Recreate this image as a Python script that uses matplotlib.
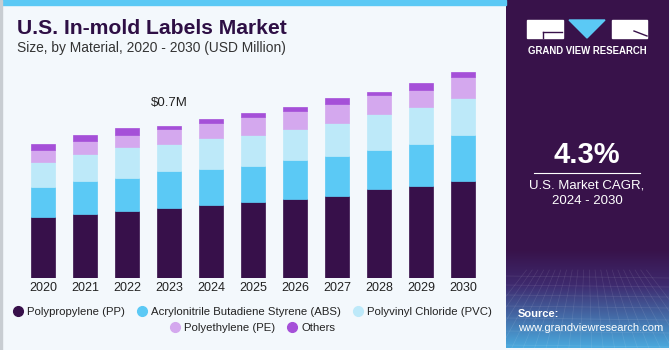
import numpy as np
import matplotlib
matplotlib.use("Agg")
import matplotlib.pyplot as plt
from matplotlib.patches import Rectangle, Polygon
from matplotlib.lines import Line2D

plt.rcParams['font.family'] = ['Liberation Sans', 'DejaVu Sans']

years = ["2020", "2021", "2022", "2023", "2024", "2025", "2026", "2027", "2028", "2029", "2030"]
pp = [0.279, 0.293, 0.307, 0.320, 0.334, 0.348, 0.363, 0.378, 0.407, 0.420, 0.447]
abs_ = [0.139, 0.152, 0.152, 0.169, 0.168, 0.166, 0.180, 0.181, 0.180, 0.194, 0.209]
pvc = [0.113, 0.125, 0.140, 0.125, 0.142, 0.142, 0.142, 0.153, 0.167, 0.169, 0.169]
pe = [0.055, 0.058, 0.058, 0.070, 0.069, 0.082, 0.082, 0.085, 0.085, 0.081, 0.095]
others = [0.027, 0.029, 0.029, 0.015, 0.015, 0.017, 0.016, 0.027, 0.014, 0.030, 0.027]

series = [
    ("Polypropylene (PP)", pp, "#37104a"),
    ("Acrylonitrile Butadiene Styrene (ABS)", abs_, "#5bc9f5"),
    ("Polyvinyl Chloride (PVC)", pvc, "#bde9f9"),
    ("Polyethylene (PE)", pe, "#d4a8ee"),
    ("Others", others, "#a550d8"),
]
label_year = "2023"
label_text = "$0.7M"

W, H = 670, 350
fig = plt.figure(figsize=(6.7, 3.5), dpi=100)
fig.patch.set_facecolor("#f3f8fc")

# top stripe and left border
fig.patches.append(Rectangle((0, 1 - 5 / H), 506 / W, 5 / H, transform=fig.transFigure,
                             color="#5bc9f5", zorder=0))
fig.patches.append(Rectangle((0, 0), 1.5 / W, 1, transform=fig.transFigure,
                             color="#c8cdd2", zorder=0))

# bar chart
ax = fig.add_axes([20 / W, (H - 278) / H, 465 / W, 218 / H])
ax.set_facecolor("none")
x = np.arange(len(years))
bottom = np.zeros(len(years))
for name, vals, col in series:
    ax.bar(x, vals, width=0.57, bottom=bottom, color=col, edgecolor=col,
           linewidth=0.5, label=name)
    bottom += np.array(vals)
ax.set_xlim(-0.55, 10.52)
ax.set_ylim(0, 1.0)
ax.set_xticks(x)
ax.set_xticklabels(years, fontsize=9, color="#222222")
ax.tick_params(axis="x", length=0, pad=3)
ax.set_yticks([])
for s in ax.spines.values():
    s.set_visible(False)
i = years.index(label_year)
ax.annotate(label_text, (x[i], bottom[i]), xytext=(0, 12), textcoords="offset points",
            ha="center", va="bottom", fontsize=9.5, color="#222222")

# title
fig.text(17 / W, 1 - 28 / H, "U.S. In-mold Labels Market", fontsize=15.2, fontweight="heavy",
         color="#2e0f45", va="center")
fig.text(17 / W, 1 - 48 / H, "Size, by Material, 2020 - 2030 (USD Million)", fontsize=9.9,
         color="#333333", va="center")

# legend
handles = [Line2D([], [], marker="o", linestyle="none", markersize=7,
                  markerfacecolor=c, markeredgecolor=c) for _, _, c in series]
names = [n for n, _, _ in series]
kw = dict(frameon=False, fontsize=8.2, handletextpad=0.3, columnspacing=1.0,
          handlelength=1.0, borderpad=0, labelcolor="#222222")
leg1 = fig.legend(handles[:3], names[:3], ncol=3, loc="center",
                  bbox_to_anchor=(252 / W, 1 - 312 / H), **kw)
leg2 = fig.legend(handles[3:], names[3:], ncol=2, loc="center",
                  bbox_to_anchor=(252 / W, 1 - 328 / H), **kw)

# right panel
pax = fig.add_axes([506 / W, 2 / H, 163 / W, 348 / H])
pax.set_xlim(0, 163)
pax.set_ylim(348, 0)
pax.axis("off")
top_c = np.array([0x38, 0x12, 0x4a]) / 255
mid_c = np.array([0x3e, 0x2a, 0x6e]) / 255
bot_c = np.array([0x4a, 0xaa, 0xde]) / 255
rows = np.linspace(0, 1, 348)
grad = np.zeros((348, 1, 3))
for k, t in enumerate(rows):
    y = t * 348
    if y < 250:
        grad[k, 0] = top_c
    elif y < 285:
        f = (y - 250) / 35
        grad[k, 0] = top_c * (1 - f) + mid_c * f
    else:
        f = (y - 285) / 63
        grad[k, 0] = mid_c * (1 - f) + bot_c * f
pax.imshow(grad, extent=(0, 163, 348, 0), aspect="auto")
# faint mesh near the bottom
for xv in np.linspace(-40, 200, 22):
    pax.plot([81 + (xv - 81) * 0.5, xv], [270, 348], color="white", alpha=0.1, lw=0.5)
for yv in [276, 285, 295, 306, 318, 331, 345]:
    pax.plot([0, 163], [yv, yv + 2], color="white", alpha=0.1, lw=0.5)

# logo
pax.add_patch(Rectangle((21, 20), 36, 18, color="white"))
pax.plot([37, 56], [31.5, 31.5], color="#38124a", lw=1)
pax.plot([37, 37], [31.5, 38], color="#38124a", lw=1)
pax.add_patch(Polygon([[63, 20], [99, 20], [81, 38]], color="#5bc9f5"))
pax.add_patch(Rectangle((106, 20), 35, 18, color="white"))
pax.plot([128, 141], [31, 36], color="#38124a", lw=1)
pax.text(81, 51, "GRAND VIEW RESEARCH", color="white", fontsize=6.9, fontweight="bold",
         ha="center", va="center")

pax.text(81, 155, "4.3%", color="white", fontsize=21, fontweight="bold", ha="center", va="center")
pax.plot([28, 134], [173, 173], color="white", lw=0.8)
pax.text(81, 186, "U.S. Market CAGR,", color="white", fontsize=9.5, ha="center", va="center")
pax.text(81, 201, "2024 - 2030", color="white", fontsize=9.5, ha="center", va="center")
pax.text(12, 314, "Source:", color="white", fontsize=8, fontweight="bold", va="center")
pax.text(12, 328, "www.grandviewresearch.com", color="white", fontsize=8, va="center")

fig.savefig("out.png", dpi=100, facecolor=fig.get_facecolor())
